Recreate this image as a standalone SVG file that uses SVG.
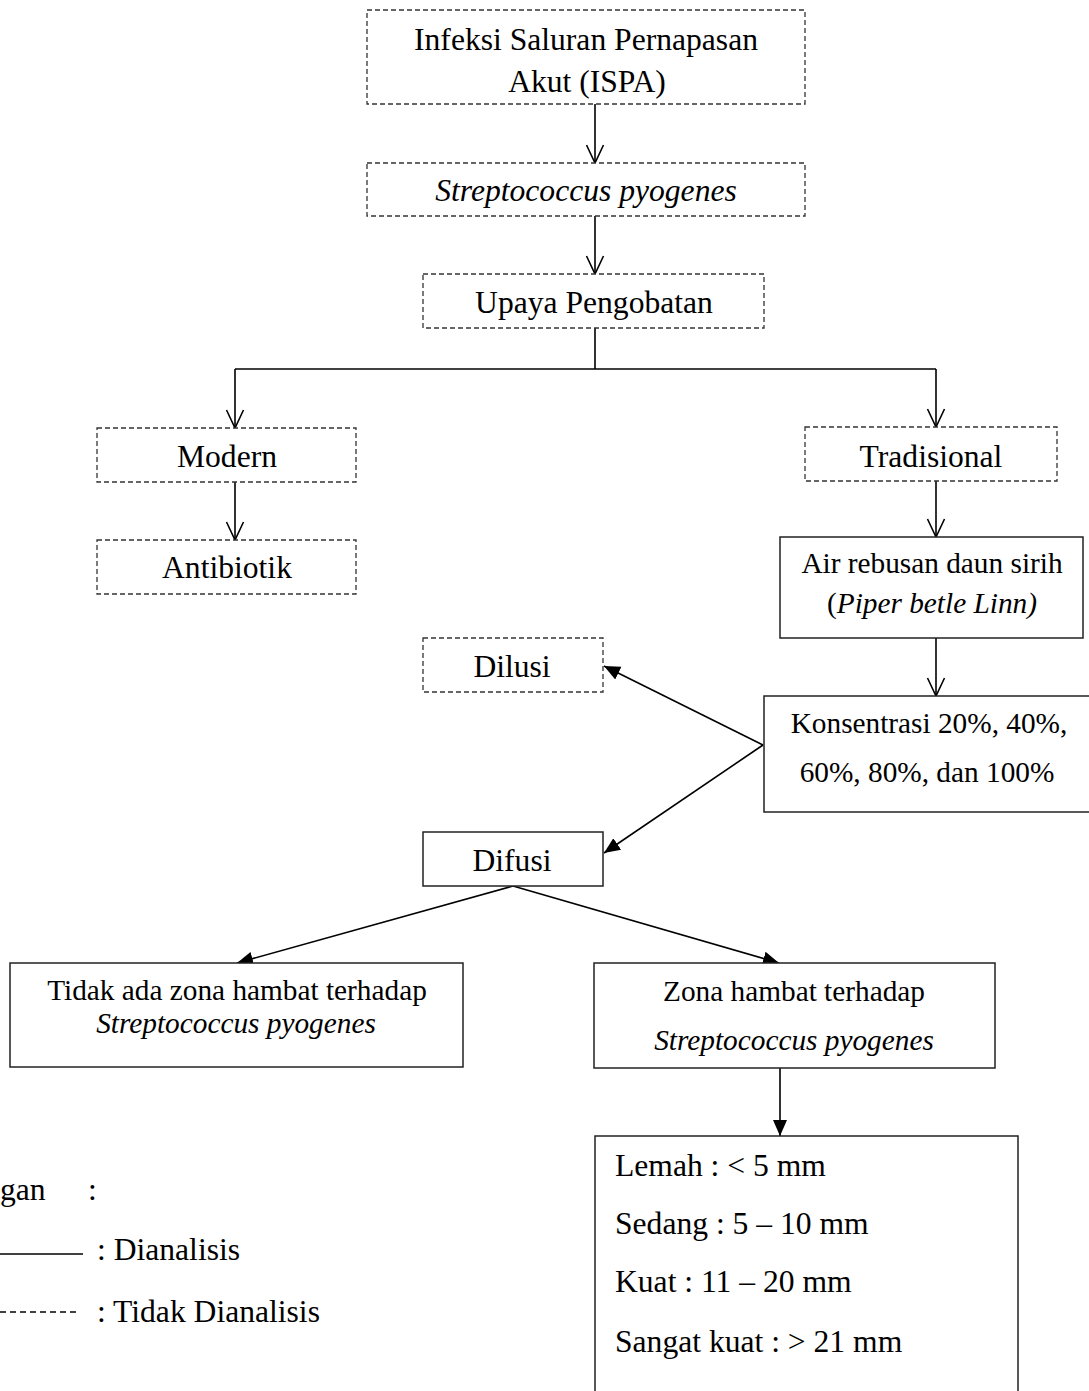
<svg xmlns="http://www.w3.org/2000/svg" width="1089" height="1391" viewBox="0 0 1089 1391">
<style>
text{font-family:"Liberation Serif","Times New Roman",serif;fill:#000}
.b{font-size:31.6px}
.s{font-size:29.3px}
.c{text-anchor:middle}
.i{font-style:italic}
.dash{fill:#fff;stroke:#333;stroke-width:1.3;stroke-dasharray:5 3}
.solid{fill:#fff;stroke:#222;stroke-width:1.5}
.ln{fill:none;stroke:#000;stroke-width:1.6}
</style>
<defs>
<marker id="v" markerUnits="userSpaceOnUse" viewBox="0 0 20 20" markerWidth="20" markerHeight="20" refX="19" refY="10" orient="auto">
<path d="M1,1.5 L19,10 L1,18.5" fill="none" stroke="#000" stroke-width="1.6"/>
</marker>
<marker id="f" markerUnits="userSpaceOnUse" viewBox="0 0 16 16" markerWidth="16" markerHeight="16" refX="16" refY="8" orient="auto">
<path d="M0,1 L16,8 L0,15 Z" fill="#000"/>
</marker>
</defs>
<rect width="1089" height="1391" fill="#fff"/>
<g id="connectors">
<line class="ln" x1="595" y1="104" x2="595" y2="163" marker-end="url(#v)"/>
<line class="ln" x1="595" y1="216" x2="595" y2="274" marker-end="url(#v)"/>
<polyline class="ln" points="595,328 595,369"/>
<polyline class="ln" points="235,369 936,369"/>
<line class="ln" x1="235" y1="369" x2="235" y2="428" marker-end="url(#v)"/>
<line class="ln" x1="936" y1="369" x2="936" y2="427" marker-end="url(#v)"/>
<line class="ln" x1="235" y1="482" x2="235" y2="540" marker-end="url(#v)"/>
<line class="ln" x1="936" y1="481" x2="936" y2="537" marker-end="url(#v)"/>
<line class="ln" x1="936" y1="638" x2="936" y2="696" marker-end="url(#v)"/>
<line class="ln" x1="763" y1="745" x2="604" y2="666" marker-end="url(#f)"/>
<line class="ln" x1="763" y1="745" x2="604" y2="853" marker-end="url(#f)"/>
<line class="ln" x1="513" y1="886" x2="237" y2="963" marker-end="url(#f)"/>
<line class="ln" x1="513" y1="886" x2="779" y2="963" marker-end="url(#f)"/>
<line class="ln" x1="780" y1="1068" x2="780" y2="1136" marker-end="url(#f)"/>
</g>
<g id="ispa">
<rect class="dash" x="367" y="10" width="438" height="94"/>
<text class="b c" x="586" y="50">Infeksi Saluran Pernapasan</text>
<text class="b c" x="587" y="92">Akut (ISPA)</text>
</g>
<g id="strep">
<rect class="dash" x="367" y="163" width="438" height="53"/>
<text class="b c i" x="586" y="201">Streptococcus pyogenes</text>
</g>
<g id="upaya">
<rect class="dash" x="423" y="274" width="341" height="54"/>
<text class="b c" x="594" y="313">Upaya Pengobatan</text>
</g>
<g id="modern">
<rect class="dash" x="97" y="428" width="259" height="54"/>
<text class="b c" x="227" y="467">Modern</text>
</g>
<g id="antibiotik">
<rect class="dash" x="97" y="540" width="259" height="54"/>
<text class="b c" x="227" y="578">Antibiotik</text>
</g>
<g id="tradisional">
<rect class="dash" x="805" y="427" width="252" height="54"/>
<text class="b c" x="931" y="467">Tradisional</text>
</g>
<g id="air">
<rect class="solid" x="780" y="537" width="303" height="101"/>
<text class="s c" x="932" y="573">Air rebusan daun sirih</text>
<text class="s c" x="932" y="613">(<tspan class="i">Piper betle Linn)</tspan></text>
</g>
<g id="konsentrasi">
<rect class="solid" x="764" y="696" width="330" height="116"/>
<text class="s c" x="929" y="733">Konsentrasi 20%, 40%,</text>
<text class="s c" x="927" y="782">60%, 80%, dan 100%</text>
</g>
<g id="dilusi">
<rect class="dash" x="423" y="638" width="180" height="54"/>
<text class="b c" x="512" y="677">Dilusi</text>
</g>
<g id="difusi">
<rect class="solid" x="423" y="832" width="180" height="54"/>
<text class="b c" x="512" y="871">Difusi</text>
</g>
<g id="tidak">
<rect class="solid" x="10" y="963" width="453" height="104"/>
<text class="s c" x="237" y="1000">Tidak ada zona hambat terhadap</text>
<text class="s c i" x="236" y="1033">Streptococcus pyogenes</text>
</g>
<g id="zona">
<rect class="solid" x="594" y="963" width="401" height="105"/>
<text class="s c" x="794" y="1001">Zona hambat terhadap</text>
<text class="s c i" x="794" y="1050">Streptococcus pyogenes</text>
</g>
<g id="kriteria">
<rect class="solid" x="595" y="1136" width="423" height="262"/>
<text class="b" x="615" y="1176">Lemah : &lt; 5 mm</text>
<text class="b" x="615" y="1234">Sedang : 5 – 10 mm</text>
<text class="b" x="615" y="1292">Kuat : 11 – 20 mm</text>
<text class="b" x="615" y="1352">Sangat kuat : &gt; 21 mm</text>
</g>
<g id="legend">
<text class="b" x="0" y="1200">gan</text>
<text class="b" x="88" y="1200">:</text>
<line x1="0" y1="1254" x2="83" y2="1254" stroke="#000" stroke-width="1.3"/>
<text class="b" x="97" y="1260">: Dianalisis</text>
<line x1="0" y1="1312" x2="78" y2="1312" stroke="#000" stroke-width="1.3" stroke-dasharray="6 4"/>
<text class="b" x="97" y="1322">: Tidak Dianalisis</text>
</g>
</svg>
